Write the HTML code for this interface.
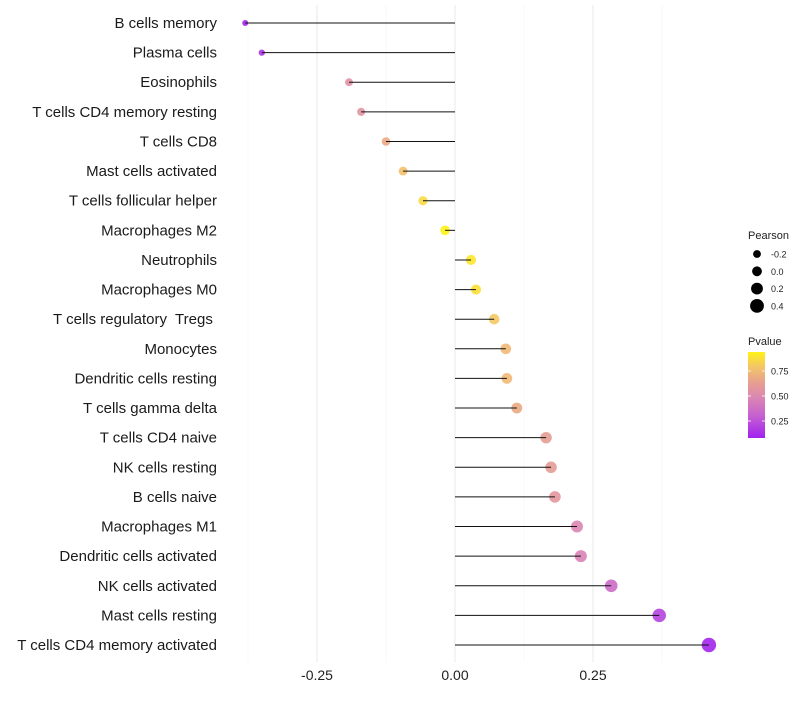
<!DOCTYPE html>
<html><head><meta charset="utf-8"><style>
body{margin:0;background:#fff;font-family:"Liberation Sans",sans-serif;}
</style></head><body>
<svg id="chart" width="800" height="700" xmlns="http://www.w3.org/2000/svg"></svg>
<script>
const categories=["B cells memory","Plasma cells","Eosinophils","T cells CD4 memory resting","T cells CD8","Mast cells activated","T cells follicular helper","Macrophages M2","Neutrophils","Macrophages M0","T cells regulatory  Tregs ","Monocytes","Dendritic cells resting","T cells gamma delta","T cells CD4 naive","NK cells resting","B cells naive","Macrophages M1","Dendritic cells activated","NK cells activated","Mast cells resting","T cells CD4 memory activated"];
const pearson=[-0.380,-0.350,-0.192,-0.170,-0.125,-0.094,-0.058,-0.018,0.029,0.038,0.071,0.092,0.094,0.112,0.165,0.174,0.181,0.221,0.228,0.283,0.370,0.460];
const pvalue=[0.10,0.15,0.55,0.57,0.68,0.77,0.86,0.95,0.90,0.88,0.80,0.74,0.74,0.68,0.62,0.61,0.58,0.48,0.46,0.35,0.20,0.10];
const xTicks=[-0.25,0,0.25];
const xTickLabels=["-0.25","0.00","0.25"];
const sizeLegend=[-0.2,0.0,0.2,0.4];
const colorTicks=[0.75,0.50,0.25];

const svg=document.getElementById('chart');
const NS="http://www.w3.org/2000/svg";
function x(v){return 455+v*552;}
function y(i){return 23+i*(622/21);}
function r(v){return 4.9+5*v;}
function pc(p){return 438-(p-0.08)/(0.94-0.08)*86;}
function lerp(a,b,t){return a.map((c,i)=>Math.round(c+(b[i]-c)*t));}
const stops=[[0.08,[160,32,240]],[0.3,[198,96,208]],[0.5,[220,138,176]],[0.65,[232,162,140]],[0.8,[244,200,100]],[0.94,[255,242,20]]];
function col(p){
 if(p<=stops[0][0])return `rgb(${stops[0][1]})`;
 for(let k=0;k<stops.length-1;k++){if(p<=stops[k+1][0]){const t=(p-stops[k][0])/(stops[k+1][0]-stops[k][0]);return `rgb(${lerp(stops[k][1],stops[k+1][1],t)})`;}}
 return `rgb(${stops[stops.length-1][1]})`;}
function el(t,a,txt){const e=document.createElementNS(NS,t);for(const k in a)e.setAttribute(k,a[k]);if(txt!==undefined)e.textContent=txt;svg.appendChild(e);return e;}

[-0.375,-0.125,0.125,0.375].forEach(v=>{const g=el('line',{x1:x(v),x2:x(v),y1:5,y2:662,stroke:'#f4f4f4','stroke-width':0.6});

});
xTicks.forEach((v,i)=>{const g=el('line',{x1:x(v),x2:x(v),y1:5,y2:662,stroke:'#ebebeb','stroke-width':1.1});


const t=el('text',{x:x(v),y:680,'text-anchor':'middle','font-size':14,fill:'#222'},xTickLabels[i]);

});

categories.forEach((c,i)=>{
 const t=el('text',{x:217,y:y(i)+5,'text-anchor':'end','font-size':15,fill:'#1a1a1a',style:'white-space:pre'},c);
 
 
 const p=el('circle',{cx:x(pearson[i]),cy:y(i),r:r(pearson[i]),fill:col(pvalue[i]),'fill-opacity':0.9});
 
 
 const l=el('line',{x1:x(0),x2:x(pearson[i]),y1:y(i),y2:y(i),stroke:'#111','stroke-width':1});
 
 
});

const st=el('text',{x:748,y:239,'font-size':11,fill:'#222'},'Pearson');


sizeLegend.forEach((v,i)=>{const cy=254+i*17.3;
 const c=el('circle',{cx:757,cy:cy,r:r(v),fill:'#000'});
 
 
 const t=el('text',{x:771,y:cy+3.5,'font-size':9,fill:'#222'},v.toFixed(1));
 
 });

const ct=el('text',{x:748,y:345,'font-size':11,fill:'#222'},'Pvalue');


const defs=el('defs',{});
const lg=document.createElementNS(NS,'linearGradient');lg.setAttribute('id','pg');lg.setAttribute('x1','0');lg.setAttribute('y1','1');lg.setAttribute('x2','0');lg.setAttribute('y2','0');
for(let k=0;k<=20;k++){const s=document.createElementNS(NS,'stop');s.setAttribute('offset',k/20);s.setAttribute('stop-color',col(0.08+k/20*0.86));lg.appendChild(s);}
defs.appendChild(lg);
const bar=el('rect',{x:748,y:352,width:17,height:86,fill:'url(#pg)'});


colorTicks.forEach(v=>{const yy=pc(v);
 el('line',{x1:748,x2:751,y1:yy,y2:yy,stroke:'#fff','stroke-width':0.8});
 el('line',{x1:762,x2:765,y1:yy,y2:yy,stroke:'#fff','stroke-width':0.8});
 const t=el('text',{x:771,y:yy+3.5,'font-size':9,fill:'#222'},v.toFixed(2));
 
 });
</script>
</body></html>
